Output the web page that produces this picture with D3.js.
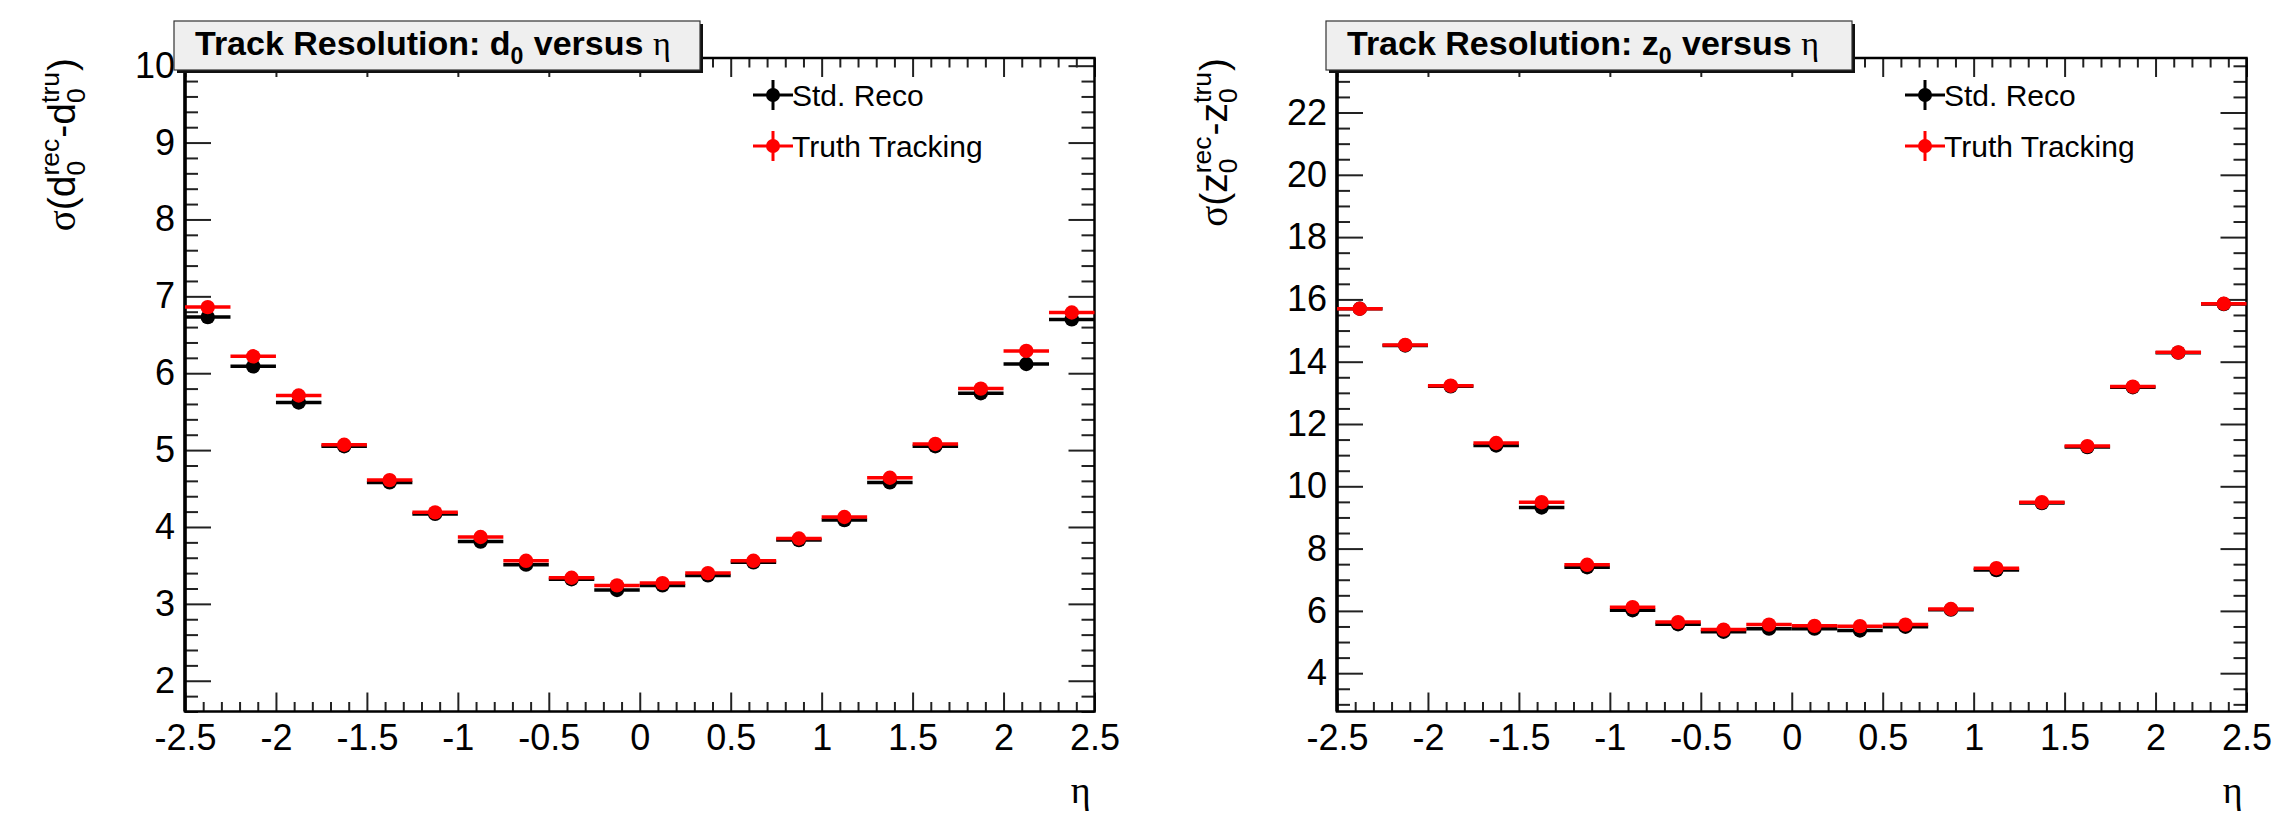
<!DOCTYPE html>
<html>
<head>
<meta charset="utf-8">
<script src="https://cdn.jsdelivr.net/npm/d3@7"></script>
<style>
  html, body { margin: 0; padding: 0; background: #fff; }
  svg { display: block; }
  text { white-space: pre; }
</style>
</head>
<body>
<svg id="chart" width="2274" height="817"></svg>
<script>
// Bin centres in eta (20 bins of width 0.25 from -2.5 to 2.5)
const etaCenters = [-2.375, -2.125, -1.875, -1.625, -1.375, -1.125, -0.875, -0.625, -0.375, -0.125,
                     0.125,  0.375,  0.625,  0.875,  1.125,  1.375,  1.625,  1.875,  2.125,  2.375];
const etaBinHalfWidth = 0.125;

// Transverse impact parameter resolution (d0)
const d0StdReco = [6.73, 6.09, 5.62, 5.05, 4.58, 4.17, 3.81, 3.51, 3.32, 3.18,
                   3.24, 3.37, 3.54, 3.83, 4.09, 4.58, 5.05, 5.74, 6.12, 6.70];
const d0Truth   = [6.86, 6.22, 5.71, 5.07, 4.61, 4.19, 3.87, 3.56, 3.34, 3.24,
                   3.27, 3.40, 3.56, 3.85, 4.13, 4.64, 5.08, 5.80, 6.29, 6.79];

// Longitudinal impact parameter resolution (z0)
const z0StdReco = [15.70, 14.52, 13.21, 11.31, 9.32, 7.40, 6.02, 5.57, 5.33, 5.43,
                   5.43, 5.37, 5.49, 6.04, 7.31, 9.46, 11.26, 13.18, 14.29, 15.85];
const z0Truth   = [15.70, 14.54, 13.23, 11.39, 9.49, 7.48, 6.12, 5.64, 5.40, 5.56,
                   5.52, 5.51, 5.56, 6.06, 7.37, 9.49, 11.29, 13.20, 14.30, 15.86];

// Tick labels
const etaTickLabels = ["-2.5", "-2", "-1.5", "-1", "-0.5", "0", "0.5", "1", "1.5", "2", "2.5"];
const d0TickLabels  = ["2", "3", "4", "5", "6", "7", "8", "9", "10"];
const z0TickLabels  = ["4", "6", "8", "10", "12", "14", "16", "18", "20", "22"];

const legendLabels = ["Std. Reco", "Truth Tracking"];
const seriesColors = ["#000000", "#ff0000"];

const SANS = "'Liberation Sans', Arial, Helvetica, sans-serif";
const SERIF = "'Liberation Serif', 'DejaVu Serif', serif";

const svg = d3.select("#chart");

const panels = [
  { offset: 0,    yDomain: [1.6, 10.1],  yMinorStep: 0.2, yTicks: d0TickLabels,
    series: [d0StdReco, d0Truth], v: "d" },
  { offset: 1152, yDomain: [2.77, 23.75], yMinorStep: 0.5, yTicks: z0TickLabels,
    series: [z0StdReco, z0Truth], v: "z" }
];

function minorValues(lo, hi, step, majors) {
  const a = Math.ceil(lo / step - 1e-6), b = Math.floor(hi / step + 1e-6);
  return d3.range(a, b + 1).map(i => +(i * step).toFixed(6))
    .filter(v => !majors.some(m => Math.abs(m - v) < 1e-6));
}

// Lay out a sequence of text pieces (with stacked sup/sub scripts) along a baseline.
function richText(g, parts, size, weight) {
  let x = 0;
  parts.forEach(p => {
    if (p.t !== undefined) {
      const t = g.append("text").attr("x", x).attr("y", 0)
        .attr("font-family", p.serif ? SERIF : SANS)
        .attr("font-size", size).attr("font-weight", p.serif ? "normal" : weight)
        .attr("fill", "#000").text(p.t);
      x += t.node().getComputedTextLength() + (p.pad || 0);
    } else {
      const s = size * 0.68;
      let w = 0;
      if (p.sup) {
        const t = g.append("text").attr("x", x).attr("y", -size * 0.42)
          .attr("font-family", SANS).attr("font-size", s).attr("font-weight", weight)
          .attr("fill", "#000").text(p.sup);
        w = Math.max(w, t.node().getComputedTextLength());
      }
      if (p.sub) {
        const t = g.append("text").attr("x", x).attr("y", size * 0.26)
          .attr("font-family", SANS).attr("font-size", s).attr("font-weight", weight)
          .attr("fill", "#000").text(p.sub);
        w = Math.max(w, t.node().getComputedTextLength());
      }
      x += w + 1;
    }
  });
  return x;
}

panels.forEach(P => {
  const fx0 = 185 + P.offset, fx1 = 1094.5 + P.offset;
  const fy0 = 58, fy1 = 711.5;
  const x = d3.scaleLinear().domain([-2.5, 2.5]).range([fx0, fx1]);
  const y = d3.scaleLinear().domain(P.yDomain).range([fy1, fy0]);

  const g = svg.append("g");

  const xMajor = etaTickLabels.map(Number);
  const xMinor = minorValues(-2.5, 2.5, 0.1, xMajor);
  const yMajor = P.yTicks.map(Number);
  const yMinor = minorValues(P.yDomain[0], P.yDomain[1], P.yMinorStep, yMajor);

  const xTickLen = 19, yTickLen = 26;

  const styleAxis = sel => {
    sel.select(".domain").remove();
    sel.selectAll(".tick line").attr("stroke", "#222").attr("stroke-width", 2);
  };

  // bottom axis with labels
  g.append("g").attr("transform", `translate(0,${fy1})`)
    .call(d3.axisBottom(x).tickValues(xMajor).tickSize(-xTickLen).tickPadding(13)
      .tickFormat((d, i) => etaTickLabels[i]))
    .call(styleAxis)
    .call(s => s.selectAll("text").attr("font-family", SANS).attr("font-size", 36).attr("fill", "#000"));
  g.append("g").attr("transform", `translate(0,${fy1})`)
    .call(d3.axisBottom(x).tickValues(xMinor).tickSize(-xTickLen / 2).tickFormat(""))
    .call(styleAxis);
  // top axis ticks
  g.append("g").attr("transform", `translate(0,${fy0})`)
    .call(d3.axisTop(x).tickValues(xMajor).tickSize(-xTickLen).tickFormat(""))
    .call(styleAxis);
  g.append("g").attr("transform", `translate(0,${fy0})`)
    .call(d3.axisTop(x).tickValues(xMinor).tickSize(-xTickLen / 2).tickFormat(""))
    .call(styleAxis);

  // left axis with labels
  g.append("g").attr("transform", `translate(${fx0},0)`)
    .call(d3.axisLeft(y).tickValues(yMajor).tickSize(-yTickLen).tickPadding(10)
      .tickFormat((d, i) => P.yTicks[i]))
    .call(styleAxis)
    .call(s => s.selectAll("text").attr("font-family", SANS).attr("font-size", 36).attr("fill", "#000"));
  g.append("g").attr("transform", `translate(${fx0},0)`)
    .call(d3.axisLeft(y).tickValues(yMinor).tickSize(-yTickLen / 2).tickFormat(""))
    .call(styleAxis);
  // right axis ticks
  g.append("g").attr("transform", `translate(${fx1},0)`)
    .call(d3.axisRight(y).tickValues(yMajor).tickSize(-yTickLen).tickFormat(""))
    .call(styleAxis);
  g.append("g").attr("transform", `translate(${fx1},0)`)
    .call(d3.axisRight(y).tickValues(yMinor).tickSize(-yTickLen / 2).tickFormat(""))
    .call(styleAxis);

  // frame
  g.append("rect").attr("x", fx0).attr("y", fy0)
    .attr("width", fx1 - fx0).attr("height", fy1 - fy0)
    .attr("fill", "none").attr("stroke", "#000").attr("stroke-width", 2.5);
  g.append("line").attr("x1", fx0).attr("x2", fx0).attr("y1", fy0).attr("y2", fy1)
    .attr("stroke", "#000").attr("stroke-width", 3.5);

  // data: black series first, red on top
  P.series.forEach((vals, si) => {
    const sg = g.append("g");
    sg.selectAll("line").data(vals).join("line")
      .attr("x1", (d, i) => x(etaCenters[i] - etaBinHalfWidth))
      .attr("x2", (d, i) => x(etaCenters[i] + etaBinHalfWidth))
      .attr("y1", d => y(d)).attr("y2", d => y(d))
      .attr("stroke", seriesColors[si]).attr("stroke-width", 3.5);
    sg.selectAll("circle").data(vals).join("circle")
      .attr("cx", (d, i) => x(etaCenters[i]))
      .attr("cy", d => y(d)).attr("r", 7.2)
      .attr("fill", seriesColors[si]);
  });

  // legend
  legendLabels.forEach((lab, i) => {
    const cx = 773 + P.offset, cy = i === 0 ? 95 : 146;
    const lg = g.append("g");
    lg.append("line").attr("x1", cx - 20).attr("x2", cx + 20).attr("y1", cy).attr("y2", cy)
      .attr("stroke", seriesColors[i]).attr("stroke-width", 3);
    lg.append("line").attr("x1", cx).attr("x2", cx).attr("y1", cy - 15).attr("y2", cy + 15)
      .attr("stroke", seriesColors[i]).attr("stroke-width", 3);
    lg.append("circle").attr("cx", cx).attr("cy", cy).attr("r", 7).attr("fill", seriesColors[i]);
    lg.append("text").attr("x", cx + 19).attr("y", cy + 11)
      .attr("font-family", SANS).attr("font-size", 30).attr("fill", "#000").text(lab);
  });

  // x-axis title
  g.append("text").attr("x", fx1 - 4).attr("y", 803).attr("text-anchor", "end")
    .attr("font-family", SERIF).attr("font-size", 38).attr("fill", "#000").text("η");

  // y-axis title, rotated, ending at the top of the frame
  const yt = g.append("g");
  const len = richText(yt, [
    { t: "σ", serif: true }, { t: "(" }, { t: P.v }, { sup: "rec", sub: "0" },
    { t: "-" }, { t: P.v }, { sup: "tru", sub: "0" }, { t: ")" }
  ], 39, "normal");
  yt.attr("transform", `translate(${75 + P.offset},${fy0}) rotate(-90) translate(${-len},0)`);

  // title box with shadow
  const bx0 = 174 + P.offset, bx1 = 700 + P.offset, by0 = 21, by1 = 70;
  g.append("rect").attr("x", bx0 + 3).attr("y", by0 + 3)
    .attr("width", bx1 - bx0).attr("height", by1 - by0).attr("fill", "#111");
  g.append("rect").attr("x", bx0).attr("y", by0)
    .attr("width", bx1 - bx0).attr("height", by1 - by0)
    .attr("fill", "#efefef").attr("stroke", "#333").attr("stroke-width", 1.2);
  const tt = g.append("g").attr("transform", `translate(${bx0 + 21},${by0 + 34})`);
  richText(tt, [
    { t: "Track Resolution: " + P.v }, { sub: "0" }, { t: " versus " }, { t: "η", serif: true }
  ], 34, "bold");
});
</script>
</body>
</html>
